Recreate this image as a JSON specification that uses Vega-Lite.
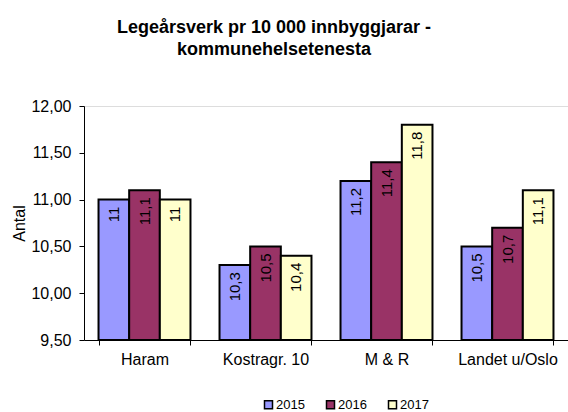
{
  "$schema": "https://vega.github.io/schema/vega-lite/v6.json",
  "autosize": "none",
  "width": 484,
  "height": 234,
  "padding": {"left": 84, "top": 106, "right": 0, "bottom": 72},
  "background": "white",
  "title": {
    "text": ["Legeårsverk pr 10 000 innbyggjarar -", "kommunehelsetenesta"],
    "font": "Liberation Sans",
    "fontSize": 18,
    "fontWeight": "bold",
    "color": "black",
    "anchor": "middle",
    "dx": -52,
    "offset": 39,
    "lineHeight": 22
  },
  "data": {
    "values": [
      {"region": "Haram", "year": "2015", "value": 11},
      {"region": "Haram", "year": "2016", "value": 11.1},
      {"region": "Haram", "year": "2017", "value": 11},
      {"region": "Kostragr. 10", "year": "2015", "value": 10.3},
      {"region": "Kostragr. 10", "year": "2016", "value": 10.5},
      {"region": "Kostragr. 10", "year": "2017", "value": 10.4},
      {"region": "M & R", "year": "2015", "value": 11.2},
      {"region": "M & R", "year": "2016", "value": 11.4},
      {"region": "M & R", "year": "2017", "value": 11.8},
      {"region": "Landet u/Oslo", "year": "2015", "value": 10.5},
      {"region": "Landet u/Oslo", "year": "2016", "value": 10.7},
      {"region": "Landet u/Oslo", "year": "2017", "value": 11.1}
    ]
  },
  "transform": [
    {"calculate": "replace(toString(datum.value), '.', ',')", "as": "label"}
  ],
  "encoding": {
    "x": {
      "field": "region",
      "type": "nominal",
      "sort": null,
      "scale": {"paddingInner": 0.24, "paddingOuter": 0.12},
      "axis": {
        "title": null,
        "labelAngle": 0,
        "labelFont": "Liberation Sans",
        "labelFontSize": 16,
        "labelColor": "black",
        "labelPadding": 6,
        "domainColor": "black",
        "tickColor": "black",
        "tickSize": 5,
        "tickBand": "extent"
      }
    },
    "xOffset": {"field": "year", "type": "nominal"},
    "y": {
      "field": "value",
      "type": "quantitative",
      "scale": {"domain": [9.5, 12], "zero": false, "nice": false},
      "axis": {
        "title": "Antal",
        "titleFont": "Liberation Sans",
        "titleFontSize": 16,
        "titleFontWeight": "normal",
        "titleColor": "black",
        "titlePadding": 3,
        "values": [9.5, 10, 10.5, 11, 11.5, 12],
        "labelExpr": "replace(format(datum.value, '.2f'), '.', ',')",
        "labelFont": "Liberation Sans",
        "labelFontSize": 16,
        "labelColor": "black",
        "labelPadding": 8,
        "grid": false,
        "domainColor": "black",
        "tickColor": "black",
        "tickSize": 5
      }
    }
  },
  "layer": [
    {
      "mark": {"type": "bar", "stroke": "black", "strokeWidth": 2},
      "encoding": {
        "y2": {"datum": 9.5},
        "color": {
          "field": "year",
          "type": "nominal",
          "scale": {"domain": ["2015", "2016", "2017"], "range": ["#9999FF", "#993366", "#FFFFCC"]},
          "legend": {
            "title": null,
            "orient": "none",
            "direction": "horizontal",
            "legendX": 178,
            "legendY": 292,
            "symbolType": "square",
            "symbolSize": 64,
            "symbolStrokeColor": "black",
            "symbolStrokeWidth": 1.5,
            "symbolOpacity": 1,
            "labelFont": "Liberation Sans",
            "labelFontSize": 13,
            "labelColor": "black",
            "labelOffset": 1,
            "columnPadding": 18
          }
        }
      }
    },
    {
      "mark": {
        "type": "text",
        "angle": 270,
        "align": "right",
        "baseline": "middle",
        "dx": -7,
        "font": "Liberation Sans",
        "fontSize": 15,
        "color": "black"
      },
      "encoding": {"text": {"field": "label"}}
    }
  ]
}
